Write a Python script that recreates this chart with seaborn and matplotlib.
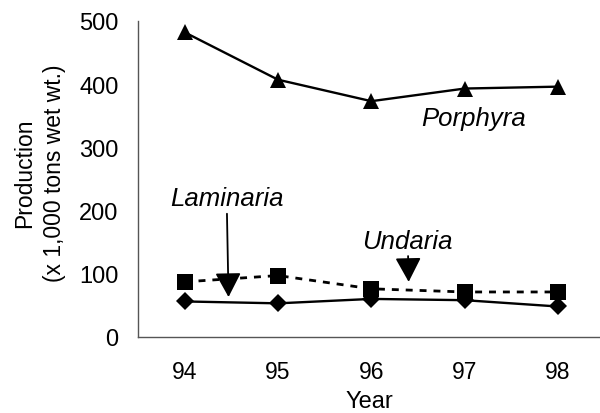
import numpy as np
import pandas as pd
import matplotlib
matplotlib.use("Agg")
import matplotlib.pyplot as plt
import seaborn as sns

# Seaweed production, 1994-1998 (x 1,000 tons wet wt.)
years = [94, 95, 96, 97, 98]
porphyra = [482, 407, 373, 393, 396]
laminaria = [87, 97, 76, 71, 71]
undaria = [56, 53, 60, 58, 48]

df = pd.DataFrame({"Year": years, "Porphyra": porphyra,
                   "Laminaria": laminaria, "Undaria": undaria})

sns.set_style("white")
plt.rcParams["font.family"] = ["Liberation Sans", "DejaVu Sans"]
plt.rcParams["text.color"] = "black"
plt.rcParams["axes.labelcolor"] = "black"
plt.rcParams["xtick.color"] = "black"
plt.rcParams["ytick.color"] = "black"

fig = plt.figure(figsize=(6, 4.14), dpi=100)
ax = fig.add_axes([0.23, 0.184, 0.77, 0.763])

sns.lineplot(data=df, x="Year", y="Porphyra", ax=ax, color="black",
             marker="^", markersize=12, linewidth=1.7, markeredgewidth=0)
sns.lineplot(data=df, x="Year", y="Laminaria", ax=ax, color="black",
             marker="s", markersize=11, linewidth=2, linestyle=(0, (2.5, 2.5)),
             markeredgewidth=0)
sns.lineplot(data=df, x="Year", y="Undaria", ax=ax, color="black",
             marker="D", markersize=9.5, linewidth=1.7, markeredgewidth=0)

# labels and arrows
ax.text(97.1, 346, "Porphyra", style="italic", fontsize=18.5,
        ha="center", va="center")
arrow = dict(arrowstyle="-|>,head_length=0.75,head_width=0.4",
             mutation_scale=20, color="black", lw=1.3, shrinkA=0, shrinkB=0)
ax.annotate("Laminaria", xy=(94.47, 63), xytext=(94.45, 219),
            style="italic", fontsize=18.5, ha="center", va="center",
            arrowprops=arrow)
ax.annotate("Undaria", xy=(96.4, 87), xytext=(96.39, 152),
            style="italic", fontsize=18.5, ha="center", va="center",
            arrowprops=arrow)

ax.set_xlim(93.5, 98.45)
ax.set_ylim(0, 500)
ax.set_xticks(years)
ax.set_yticks(range(0, 501, 100))
ax.tick_params(axis="x", length=0, labelsize=16.5, pad=17)
ax.tick_params(axis="y", length=0, labelsize=17, pad=14)
# the stray tick marks of the original chart
ax.set_yticks([100], minor=True)
ax.set_xticks([96.5], minor=True)
ax.tick_params(axis="y", which="minor", length=4, direction="out", width=0.8)
ax.tick_params(axis="x", which="minor", length=6, direction="in", width=0.8)

ax.set_xlabel("Year", fontsize=17, labelpad=5)
ax.set_ylabel("Production\n(x 1,000 tons wet wt.)", fontsize=16.5,
              linespacing=1.4)
ax.yaxis.set_label_coords(-0.155, 0.52)

for side in ["top", "right"]:
    ax.spines[side].set_visible(False)
for side in ["left", "bottom"]:
    ax.spines[side].set_color("#555555")
    ax.spines[side].set_linewidth(1)

fig.savefig("out.png", dpi=100)
